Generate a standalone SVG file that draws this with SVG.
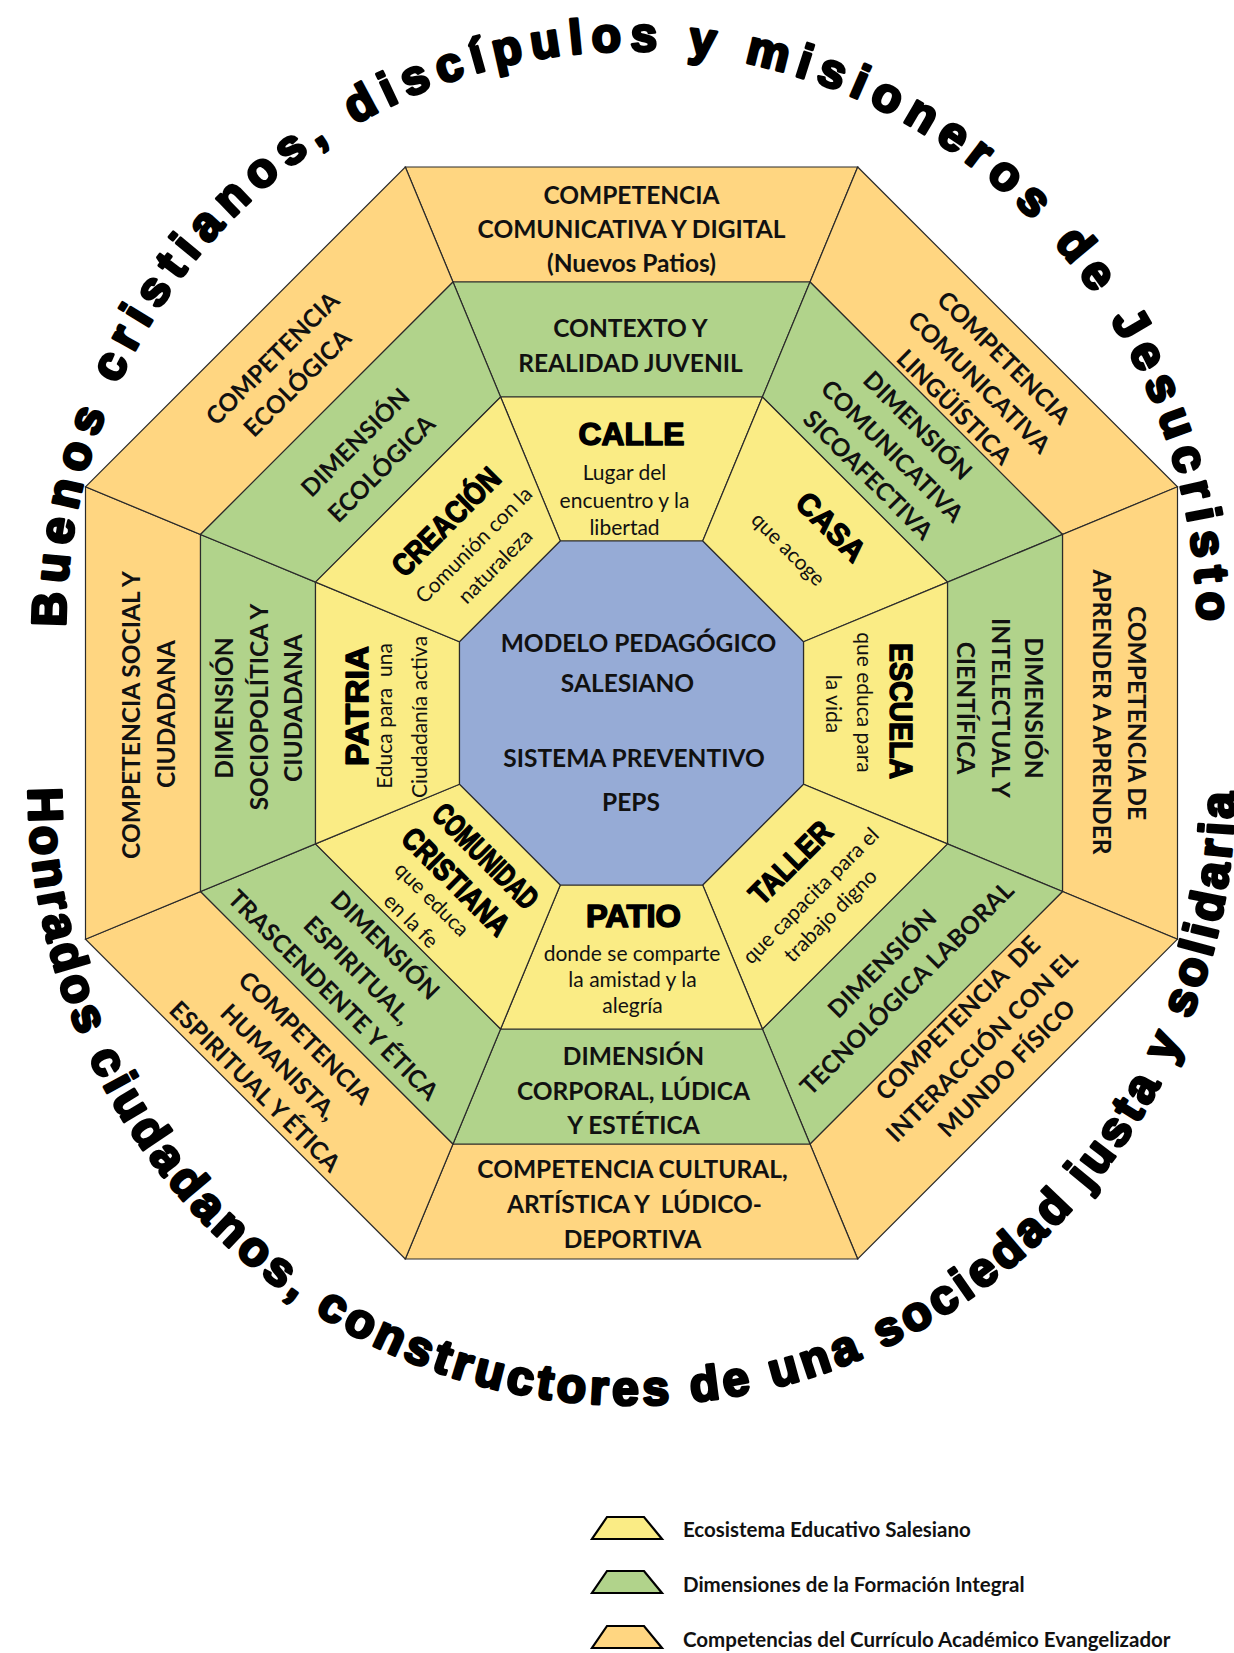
<svg xmlns="http://www.w3.org/2000/svg" width="1234" height="1653" viewBox="0 0 1234 1653">
<defs>
<style>
.o{fill:#FFD681;stroke:#2a2a2a;stroke-width:1.2}
.g{fill:#B1D38B;stroke:#2a2a2a;stroke-width:1.2}
.y{fill:#FAEC85;stroke:#2a2a2a;stroke-width:1.2}
.b{fill:#96ABD6;stroke:#2a2a2a;stroke-width:1.2}
.t{font-family:Lato,"Open Sans","DejaVu Sans",sans-serif;font-weight:700;font-size:24.5px;text-anchor:middle;fill:#111}
.h{font-family:"Liberation Sans",Arial,sans-serif;font-weight:700;font-size:31px;text-anchor:middle;fill:#000;stroke:#000;stroke-width:1.5;stroke-linejoin:round}
.s{font-family:Lato,"Open Sans","DejaVu Sans",sans-serif;font-weight:400;font-size:21px;text-anchor:middle;fill:#111}
.arc{font-family:"Liberation Sans",Arial,sans-serif;font-weight:700;font-size:48px;fill:#000;stroke:#000;stroke-width:3;stroke-linejoin:round}
.lg{font-family:Lato,"Open Sans","DejaVu Sans",sans-serif;font-weight:700;font-size:20.5px;fill:#111}
.lt{stroke:#000;stroke-width:2.2}
</style>
<path id="arcTop" d="M 65.5 627 A 566 576 0 0 1 1197.5 627"/>
<path id="arcBot" d="M 28.5 788 A 603 617 0 0 0 1234.5 788"/>
</defs>
<rect width="1234" height="1653" fill="#fff"/>

<g id="arc-top">
<text class="arc"><textPath href="#arcTop" textLength="1788" lengthAdjust="spacing">Buenos cristianos, discípulos y misioneros de Jesucristo</textPath></text>
</g>
<g id="arc-bottom">
<text class="arc"><textPath href="#arcBot" textLength="1912" lengthAdjust="spacing">Honrados ciudadanos, constructores de una sociedad justa y solidaria</textPath></text>
</g>

<!-- NORTH -->
<g id="comp-digital">
<polygon class="o" points="405.3,167 857.7,167 810,282 453,282"/>
<g transform="translate(631.5,713)">
<text class="t" x="0" y="-509">COMPETENCIA</text>
<text class="t" x="0" y="-475">COMUNICATIVA Y DIGITAL</text>
<text class="t" x="0" y="-441">(Nuevos Patios)</text>
</g>
</g>
<g id="dim-contexto">
<polygon class="g" points="453,282 810,282 762.4,397 500.6,397"/>
<g transform="translate(631.5,713)">
<text class="t" x="-1" y="-376">CONTEXTO Y</text>
<text class="t" x="-1" y="-341">REALIDAD JUVENIL</text>
</g>
</g>
<g id="calle">
<polygon class="y" points="500.6,397 762.4,397 702.7,541 560.3,541"/>
<g transform="translate(631.5,713)">
<text class="h" x="0" y="-268" textLength="106" lengthAdjust="spacingAndGlyphs">CALLE</text>
<text class="s" x="-7" y="-233">Lugar del</text>
<text class="s" x="-7" y="-205">encuentro y la</text>
<text class="s" x="-7" y="-178">libertad</text>
</g>
</g>

<!-- NORTH-EAST -->
<g id="comp-linguistica">
<polygon class="o" points="857.7,167 1177.5,486.8 1062.5,534.5 810,282"/>
<g transform="translate(631.5,713) rotate(45)">
<text class="t" x="12" y="-506">COMPETENCIA</text>
<text class="t" x="12" y="-471">COMUNICATIVA</text>
<text class="t" x="12" y="-436">LINGÜÍSTICA</text>
</g>
</g>
<g id="dim-sicoafectiva">
<polygon class="g" points="810,282 1062.5,534.5 947.5,582.1 762.4,397"/>
<g transform="translate(631.5,713) rotate(45)">
<text class="t" x="-1" y="-397">DIMENSIÓN</text>
<text class="t" x="-1" y="-361">COMUNICATIVA</text>
<text class="t" x="-1" y="-327">SICOAFECTIVA</text>
</g>
</g>
<g id="casa">
<polygon class="y" points="762.4,397 947.5,582.1 803.5,641.8 702.7,541"/>
<g transform="translate(631.5,713) rotate(45)">
<text class="h" x="9.5" y="-262" textLength="84" lengthAdjust="spacingAndGlyphs">CASA</text>
<text class="s" x="-5" y="-219.5">que acoge</text>
</g>
</g>

<!-- EAST -->
<g id="comp-aprender">
<polygon class="o" points="1177.5,486.8 1177.5,939.2 1062.5,891.5 1062.5,534.5"/>
<g transform="translate(631.5,713) rotate(90)">
<text class="t" x="0" y="-496.5">COMPETENCIA DE</text>
<text class="t" x="-1" y="-461.5">APRENDER A APRENDER</text>
</g>
</g>
<g id="dim-intelectual">
<polygon class="g" points="1062.5,534.5 1062.5,891.5 947.5,843.9 947.5,582.1"/>
<g transform="translate(631.5,713) rotate(90)">
<text class="t" x="-5" y="-393.5">DIMENSIÓN</text>
<text class="t" x="-5" y="-360.5">INTELECTUAL Y</text>
<text class="t" x="-5" y="-325.5">CIENTÍFICA</text>
</g>
</g>
<g id="escuela">
<polygon class="y" points="947.5,582.1 947.5,843.9 803.5,784.2 803.5,641.8"/>
<g transform="translate(631.5,713) rotate(90)">
<text class="h" x="-2" y="-258.5" textLength="136" lengthAdjust="spacingAndGlyphs">ESCUELA</text>
<text class="s" x="-10.5" y="-225.5">que educa para</text>
<text class="s" x="-9" y="-194.5">la vida</text>
</g>
</g>

<!-- SOUTH-EAST -->
<g id="comp-interaccion">
<polygon class="o" points="1177.5,939.2 857.7,1259 810,1144 1062.5,891.5"/>
<g transform="translate(631.5,713) rotate(-45)">
<text class="t" x="15" y="455">COMPETENCIA&#160; DE</text>
<text class="t" x="12" y="492">INTERACCIÓN CON EL</text>
<text class="t" x="14" y="525">MUNDO FÍSICO</text>
</g>
</g>
<g id="dim-tecnologica">
<polygon class="g" points="1062.5,891.5 810,1144 762.4,1029 947.5,843.9"/>
<g transform="translate(631.5,713) rotate(-45)">
<text class="t" x="0" y="363">DIMENSIÓN</text>
<text class="t" x="0" y="398">TECNOLÓGICA LABORAL</text>
</g>
</g>
<g id="taller">
<polygon class="y" points="947.5,843.9 762.4,1029 702.7,885 803.5,784.2"/>
<g transform="translate(631.5,713) rotate(-45)">
<text class="h" x="6.7" y="229" textLength="103" lengthAdjust="spacingAndGlyphs">TALLER</text>
<text class="s" x="-2.5" y="263">que capacita para el</text>
<text class="s" x="-2.5" y="291">trabajo digno</text>
</g>
</g>

<!-- SOUTH -->
<g id="comp-cultural">
<polygon class="o" points="857.7,1259 405.3,1259 453,1144 810,1144"/>
<g transform="translate(631.5,713)">
<text class="t" x="1" y="465">COMPETENCIA CULTURAL,</text>
<text class="t" x="3" y="500">ARTÍSTICA Y&#160; LÚDICO-</text>
<text class="t" x="1" y="535">DEPORTIVA</text>
</g>
</g>
<g id="dim-corporal">
<polygon class="g" points="810,1144 453,1144 500.6,1029 762.4,1029"/>
<g transform="translate(631.5,713)">
<text class="t" x="2" y="352">DIMENSIÓN</text>
<text class="t" x="2" y="387">CORPORAL, LÚDICA</text>
<text class="t" x="2" y="421">Y ESTÉTICA</text>
</g>
</g>
<g id="patio">
<polygon class="y" points="762.4,1029 500.6,1029 560.3,885 702.7,885"/>
<g transform="translate(631.5,713)">
<text class="h" x="2" y="214" textLength="95" lengthAdjust="spacingAndGlyphs">PATIO</text>
<text class="s" x="0.5" y="248">donde se comparte</text>
<text class="s" x="1" y="274">la amistad y la</text>
<text class="s" x="1" y="300">alegría</text>
</g>
</g>

<!-- SOUTH-WEST -->
<g id="comp-humanista">
<polygon class="o" points="405.3,1259 85.5,939.2 200.5,891.5 453,1144"/>
<g transform="translate(631.5,713) rotate(45)">
<text class="t" x="-1" y="469">COMPETENCIA</text>
<text class="t" x="-2.5" y="505">HUMANISTA,</text>
<text class="t" x="-2" y="539">ESPIRITUAL Y ÉTICA</text>
</g>
</g>
<g id="dim-espiritual">
<polygon class="g" points="453,1144 200.5,891.5 315.5,843.9 500.6,1029"/>
<g transform="translate(631.5,713) rotate(45)">
<text class="t" x="-10" y="347">DIMENSIÓN</text>
<text class="t" x="-11.5" y="384">ESPIRITUAL,</text>
<text class="t" x="-11.5" y="419">TRASCENDENTE Y ÉTICA</text>
</g>
</g>
<g id="comunidad-cristiana">
<polygon class="y" points="500.6,1029 315.5,843.9 459.5,784.2 560.3,885"/>
<g transform="translate(631.5,713) rotate(45)">
<text class="h" x="-2" y="215" textLength="135" lengthAdjust="spacingAndGlyphs">COMUNIDAD</text>
<text class="h" x="-5" y="254" textLength="138" lengthAdjust="spacingAndGlyphs">CRISTIANA</text>
<text class="s" x="-9.5" y="280">que educa</text>
<text class="s" x="-9" y="310">en la fe</text>
</g>
</g>

<!-- WEST -->
<g id="comp-social">
<polygon class="o" points="85.5,939.2 85.5,486.8 200.5,534.5 200.5,891.5"/>
<g transform="translate(631.5,713) rotate(-90)">
<text class="t" x="-2" y="-491.5">COMPETENCIA SOCIAL Y</text>
<text class="t" x="-1" y="-456.5">CIUDADANA</text>
</g>
</g>
<g id="dim-sociopolitica">
<polygon class="g" points="200.5,891.5 200.5,534.5 315.5,582.1 315.5,843.9"/>
<g transform="translate(631.5,713) rotate(-90)">
<text class="t" x="5" y="-398.5">DIMENSIÓN</text>
<text class="t" x="6" y="-363.5">SOCIOPOLÍTICA Y</text>
<text class="t" x="5" y="-329.5">CIUDADANA</text>
</g>
</g>
<g id="patria">
<polygon class="y" points="315.5,843.9 315.5,582.1 459.5,641.8 459.5,784.2"/>
<g transform="translate(631.5,713) rotate(-90)">
<text class="h" x="7" y="-263.5" textLength="120" lengthAdjust="spacingAndGlyphs">PATRIA</text>
<text class="s" x="-3" y="-239.5">Educa para&#160; una</text>
<text class="s" x="-4" y="-204.5">Ciudadanía activa</text>
</g>
</g>

<!-- NORTH-WEST -->
<g id="comp-ecologica">
<polygon class="o" points="85.5,486.8 405.3,167 453,282 200.5,534.5"/>
<g transform="translate(631.5,713) rotate(-45)">
<text class="t" x="-3" y="-496">COMPETENCIA</text>
<text class="t" x="-3" y="-461">ECOLÓGICA</text>
</g>
</g>
<g id="dim-ecologica">
<polygon class="g" points="200.5,534.5 453,282 500.6,397 315.5,582.1"/>
<g transform="translate(631.5,713) rotate(-45)">
<text class="t" x="-4" y="-378">DIMENSIÓN</text>
<text class="t" x="-4" y="-341">ECOLÓGICA</text>
</g>
</g>
<g id="creacion">
<polygon class="y" points="315.5,582.1 500.6,397 560.3,541 459.5,641.8"/>
<g transform="translate(631.5,713) rotate(-45)">
<text class="h" x="4" y="-255.6" textLength="139" lengthAdjust="spacingAndGlyphs">CREACIÓN</text>
<text class="s" x="7.4" y="-223">Comunión con la</text>
<text class="s" x="7.4" y="-193">naturaleza</text>
</g>
</g>

<!-- CENTER -->
<g id="modelo-pedagogico">
<polygon class="b" points="560.3,541 702.7,541 803.5,641.8 803.5,784.2 702.7,885 560.3,885 459.5,784.2 459.5,641.8"/>
<text class="t" x="638.5" y="651.5">MODELO PEDAGÓGICO</text>
<text class="t" x="627.5" y="691.5">SALESIANO</text>
<text class="t" x="634" y="766.5">SISTEMA PREVENTIVO</text>
<text class="t" x="631" y="810.5">PEPS</text>
</g>

<!-- LEGEND -->
<g id="legend-ecosistema">
<polygon class="y lt" points="607,1517 644,1517 662,1539 592,1539"/>
<text class="lg" x="683" y="1537">Ecosistema Educativo Salesiano</text>
</g>
<g id="legend-dimensiones">
<polygon class="g lt" points="607,1571 644,1571 662,1593 592,1593"/>
<text class="lg" x="683" y="1592">Dimensiones de la Formación Integral</text>
</g>
<g id="legend-competencias">
<polygon class="o lt" points="607,1626 644,1626 662,1648 592,1648"/>
<text class="lg" x="683" y="1647">Competencias del Currículo Académico Evangelizador</text>
</g>
</svg>
